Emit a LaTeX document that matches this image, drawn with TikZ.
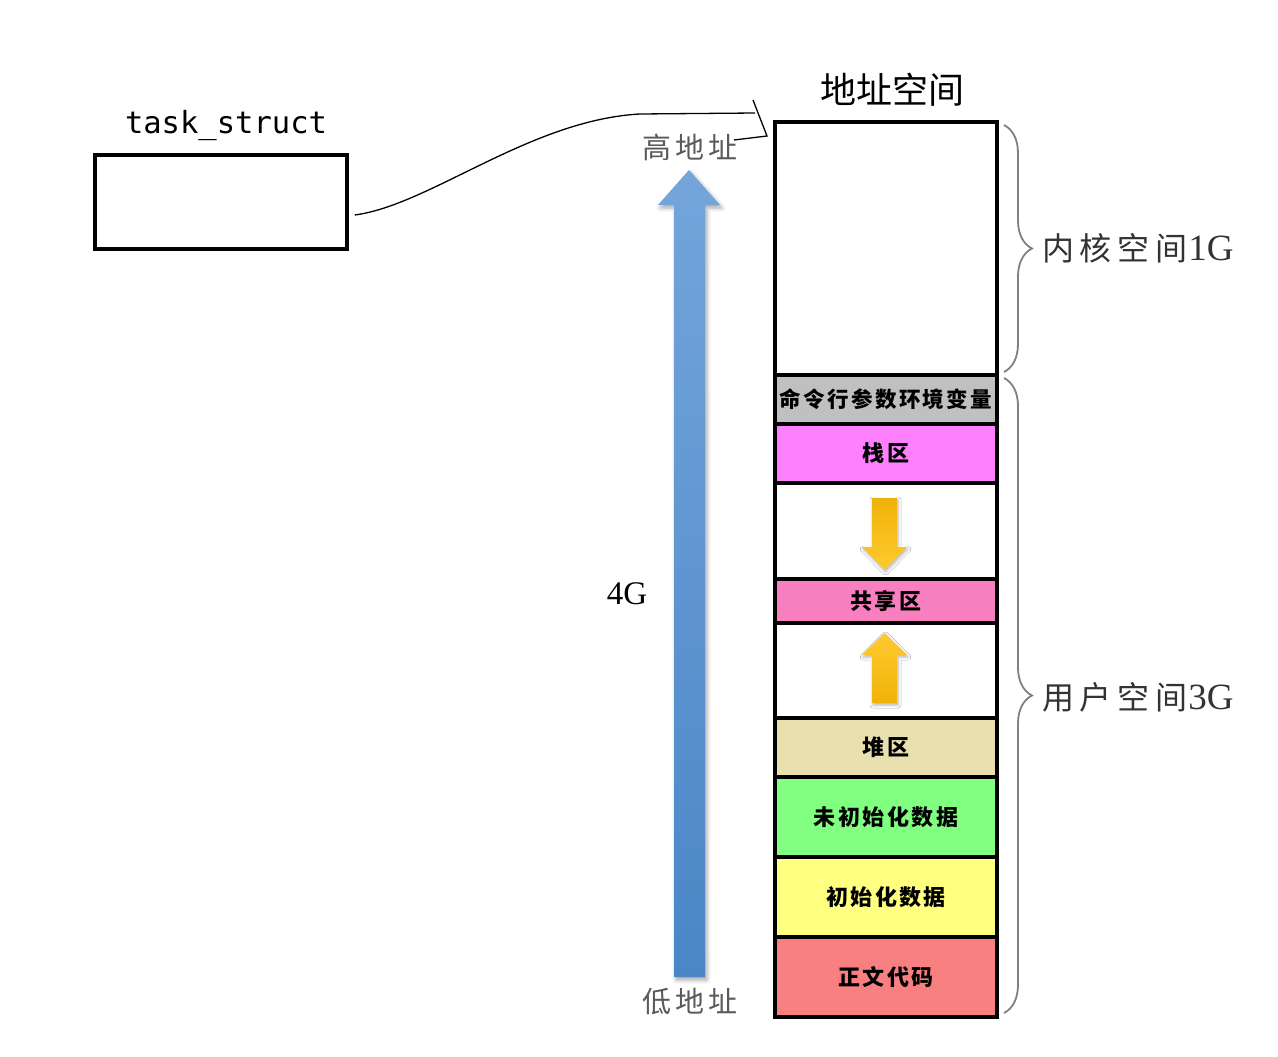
\documentclass[tikz,border=0pt]{standalone}
\usepackage{fontspec}
\usetikzlibrary{decorations.pathreplacing,shadows.blur}
\newfontfamily\cjk{Noto Sans CJK SC}
\newfontfamily\cjksp[LetterSpace=11]{Noto Sans CJK SC}
\newfontfamily\cjkwide[LetterSpace=14]{Noto Sans CJK SC}
\newfontfamily\cjkside[LetterSpace=18]{Noto Sans CJK SC}
\newfontfamily\serifnum{Liberation Serif}
\newfontfamily\monofam{DejaVu Sans Mono}
\definecolor{cgray}{HTML}{C0C0C0}
\definecolor{cstack}{HTML}{FF80FF}
\definecolor{cshare}{HTML}{F880C0}
\definecolor{cheap}{HTML}{EAE0AF}
\definecolor{cbss}{HTML}{80FF80}
\definecolor{cdata}{HTML}{FFFF80}
\definecolor{ctext}{HTML}{F88080}
\definecolor{blueT}{HTML}{74A5DB}
\definecolor{blueB}{HTML}{4A86C6}
\definecolor{yelD}{HTML}{F0B208}
\definecolor{yelL}{HTML}{FFCA30}
\definecolor{labgray}{HTML}{5A5A5A}
\begin{document}
\begin{tikzpicture}[x=1pt,y=-1pt,
  seg/.style={draw=black,line width=3.5pt,minimum width=222pt,inner sep=0pt,outer sep=0pt,
    font=\cjksp\fontsize{22}{24}\selectfont\bfseries},
  brc/.style={draw=gray,line width=1.8pt,decorate,decoration={brace,amplitude=28pt}},
  sidelab/.style={anchor=west,text=black!80,inner sep=0pt},
  addrlab/.style={text=labgray,inner sep=0pt,font=\cjkwide\fontsize{29}{31}\selectfont},
  hand/.style={draw=black,line width=1.3pt}]
\useasboundingbox (0,0) rectangle (1278,1057);

% task_struct box
\node[font=\monofam\fontsize{30.5}{32}\selectfont,inner sep=0pt] (tslab) at (226,126) {task\_struct};
\node[draw=black,line width=3.5pt,minimum width=252pt,minimum height=94pt,inner sep=0pt] (ts) at (221,202) {};

% title
\node[font=\cjk\fontsize{36}{38}\selectfont,inner sep=0pt] (title) at (892,90) {地址空间};

% column segments
\node[seg,fill=white,minimum height=253pt] (kern) at (886,248.5) {};
\node[seg,fill=cgray,minimum height=49pt,font=\cjksp\fontsize{21.5}{24}\selectfont\bfseries] (env) at (886,399.5) {命令行参数环境变量};
\node[seg,fill=cstack,minimum height=59pt] (stack) at (886,453.5) {栈区};
\node[seg,fill=white,minimum height=96pt] (gap1) at (886,531) {};
\node[seg,fill=cshare,minimum height=44pt] (share) at (886,601) {共享区};
\node[seg,fill=white,minimum height=95pt] (gap2) at (886,670.5) {};
\node[seg,fill=cheap,minimum height=59pt] (heap) at (886,747.5) {堆区};
\node[seg,fill=cbss,minimum height=80pt] (bss) at (886,817) {未初始化数据};
\node[seg,fill=cdata,minimum height=80pt] (data) at (886,897) {初始化数据};
\node[seg,fill=ctext,minimum height=80pt] (code) at (886,977) {正文代码};

% yellow arrows
\shade[top color=yelD,bottom color=yelL,blur shadow={shadow xshift=1pt,shadow yshift=-2pt,shadow blur radius=3pt,shadow opacity=30}]
  (872,498) -- (897,498) -- (897,547) -- (907,547) -- (884.5,570) -- (862,547) -- (872,547) -- cycle;
\shade[top color=yelL,bottom color=yelD,blur shadow={shadow xshift=1pt,shadow yshift=-2pt,shadow blur radius=3pt,shadow opacity=30}]
  (884.5,633) -- (907,655) -- (897,655) -- (897,703) -- (872,703) -- (872,655) -- (862,655) -- cycle;

% blue arrow
\shade[top color=blueT,bottom color=blueB,blur shadow={shadow xshift=2pt,shadow yshift=-3pt,shadow blur radius=4pt,shadow opacity=35}]
  (689,170) -- (720,205) -- (705,205) -- (705,977) -- (674,977) -- (674,205) -- (658,205) -- cycle;

% address labels
\node[addrlab] (hi) at (690,147) {高地址};
\node[addrlab] (lo) at (690,1002) {低地址};
\node[font=\serifnum\fontsize{33}{35}\selectfont,inner sep=0pt] (fourg) at (627,594) {4G};

% braces
\draw[brc] (1004,125) -- (1004,372);
\draw[brc] (1004,378) -- (1004,1013);
\node[sidelab] (kl) at (1042,248) {\cjkside\fontsize{32}{34}\selectfont 内核空间\hspace{1pt}\serifnum\fontsize{37}{39}\selectfont 1G};
\node[sidelab] (ul) at (1042,697) {\cjkside\fontsize{32}{34}\selectfont 用户空间\hspace{1pt}\serifnum\fontsize{37}{39}\selectfont 3G};

% hand-drawn connector
\coordinate (hd) at (755,113);
\draw[hand] ([shift={(6,13)}]ts.east) .. controls (430,205) and (530,120) .. (640,114) -- (hd);
\draw[hand] ([shift={(-2,-13)}]hd) -- ([shift={(12,23)}]hd) -- ([shift={(-21,27)}]hd);
\end{tikzpicture}
\end{document}
